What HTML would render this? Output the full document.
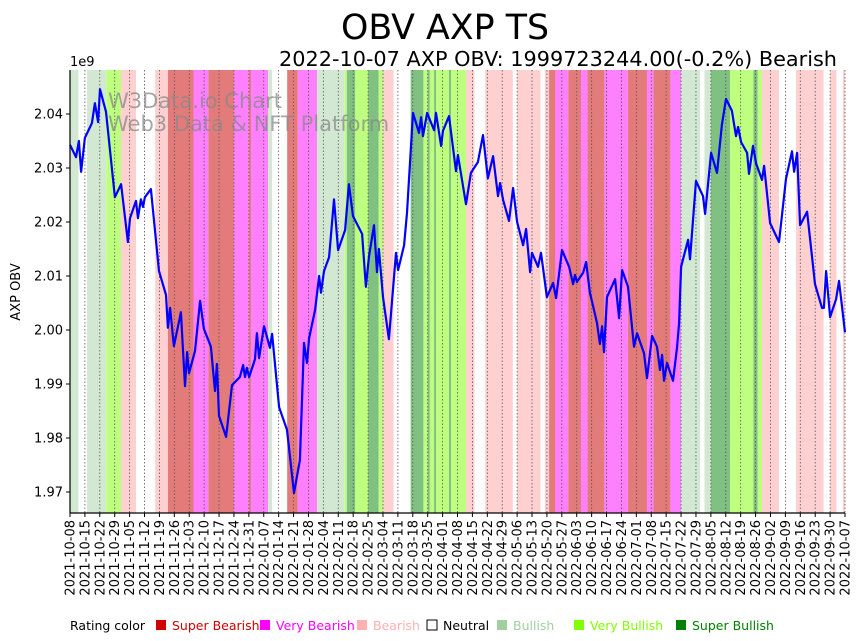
<!DOCTYPE html>
<html><head><meta charset="utf-8">
<style>
body{margin:0;background:#fff;width:862px;height:641px;overflow:hidden;font-family:"Liberation Sans","DejaVu Sans",sans-serif;}
svg{display:block}
</style></head>
<body>
<svg id="chart" width="862" height="641" xmlns="http://www.w3.org/2000/svg">
<text x="445" y="39" font-size="34.8" text-anchor="middle" font-family="DejaVu Sans, Liberation Sans, sans-serif">OBV AXP TS</text>
<text x="837" y="66" font-size="20.8" text-anchor="end" font-family="DejaVu Sans, Liberation Sans, sans-serif">2022-10-07 AXP OBV: 1999723244.00(-0.2%) Bearish</text>
<text x="70" y="66" font-size="13" font-family="DejaVu Sans, Liberation Sans, sans-serif">1e9</text>
<text transform="translate(20,292) rotate(-90)" font-size="13" text-anchor="middle" font-family="DejaVu Sans, Liberation Sans, sans-serif">AXP OBV</text>
<g id="bands"></g>
<g id="grid"></g>
<g id="wm">
<text x="108" y="108" font-size="21" fill="#888" fill-opacity="0.75" font-family="DejaVu Sans, Liberation Sans, sans-serif">W3Data.io Chart</text>
<text x="108" y="131" font-size="21" fill="#888" fill-opacity="0.75" font-family="DejaVu Sans, Liberation Sans, sans-serif">Web3 Data &amp; NFT Platform</text>
</g>
<path id="line" fill="none" stroke="#0000ff" stroke-width="2.2" stroke-linejoin="round"/>
<g id="axes"></g>
<g id="legend" font-size="12.5" font-family="DejaVu Sans, Liberation Sans, sans-serif"></g>
</svg>
<script>
const days=[0,2.8,4.2,5.2,7.0,10.3,11.7,13.2,14.1,16.9,21.1,24.0,27.2,28.2,31.0,31.9,33.3,34.3,35.2,38.0,41.8,45.1,46.0,47.0,48.8,52.1,54.0,55.0,55.9,58.7,61.1,62.9,66.2,68.1,69.0,70.0,73.3,76.1,79.8,81.3,82.2,83.1,84.1,86.9,87.8,88.8,91.1,93.9,94.9,98.2,101.9,105.2,108.0,109.9,111.3,112.3,115.1,117.0,117.9,119.3,121.7,124.0,125.9,129.2,131.0,132.9,137.2,139.0,140.4,142.8,144.2,145.1,147.0,149.8,153.1,154.1,156.9,158.3,161.1,163.9,164.9,165.8,167.7,171.0,171.9,174.3,175.2,178.0,181.3,182.2,186.0,188.3,191.6,194.0,196.3,198.7,201.0,202.0,203.4,206.2,208.1,210.0,212.8,214.2,216.1,217.0,219.8,221.2,224.0,226.9,228.3,231.1,234.4,236.3,237.2,238.1,241.0,242.4,244.2,245.2,247.5,248.9,249.9,250.8,252.2,256.0,257.9,259.3,262.1,264.9,266.3,269.6,271.0,273.4,275.7,277.1,278.1,279.0,280.4,283.2,285.1,286.1,287.0,290.3,291.2,294.0,297.3,298.3,301.1,303.9,306.2,308.1,310.9,312.8,313.8,315.2,318.0,318.9,320.8,322.2,325.0,326.0,328.8,333.0,336.3,339.1,340.1,341.5,342.9,346.2,349.9,353.2,354.1,355.1,357.0,359.8,361.2,364];
const obv=[2.0343,2.0320,2.0350,2.0293,2.0356,2.0383,2.0420,2.0385,2.0446,2.0404,2.0246,2.0270,2.0163,2.0207,2.0239,2.0207,2.0242,2.0228,2.0246,2.0261,2.0109,2.0065,2.0004,2.0041,1.9970,2.0033,1.9896,1.9959,1.9920,1.9961,2.0054,2.0002,1.9969,1.9887,1.9937,1.9841,1.9802,1.9898,1.9913,1.9935,1.9913,1.9930,1.9913,1.9946,1.9994,1.9948,2.0007,1.9967,1.9993,1.9857,1.9815,1.9698,1.9759,1.9976,1.9939,1.9985,2.0037,2.0100,2.0069,2.0109,2.0135,2.0242,2.0148,2.0185,2.0270,2.0211,2.0178,2.0080,2.0135,2.0194,2.0107,2.0150,2.0061,1.9983,2.0143,2.0111,2.0157,2.0217,2.0402,2.0365,2.0394,2.0359,2.0402,2.0370,2.0402,2.0341,2.0369,2.0396,2.0294,2.0324,2.0233,2.0291,2.0311,2.0361,2.0281,2.0322,2.0248,2.0272,2.0241,2.0202,2.0263,2.0200,2.0157,2.0187,2.0107,2.0143,2.0117,2.0143,2.0061,2.0087,2.0059,2.0148,2.0117,2.0085,2.0102,2.0089,2.0106,2.0126,2.0069,2.0052,2.0013,1.9974,2.0007,1.9959,2.0061,2.0094,2.0022,2.0111,2.0080,1.9969,1.9994,1.9957,1.9911,1.9989,1.9969,1.9926,1.9954,1.9906,1.9939,1.9906,1.9967,2.0013,2.0117,2.0167,2.0131,2.0276,2.0248,2.0215,2.0328,2.0291,2.0380,2.0428,2.0406,2.0359,2.0376,2.0348,2.0328,2.0289,2.0341,2.0309,2.0278,2.0304,2.0198,2.0163,2.0280,2.0331,2.0293,2.0328,2.0194,2.0219,2.0085,2.0041,2.0041,2.0109,2.0024,2.0057,2.0091,1.9996];
const bandStart=[0,4,8,17,24,31,40,46,58,65,77,84,85,93,95,102,107,116,129,130,134,140,145,147,152,160,166,168,169,171,172,178,179,186,190,195,208,210,221,223,225,228,234,240,243,251,262,271,274,282,287,296,298,301,310,321,323,325,333,341,354,357,360,363];
const bandRating=[4,3,4,5,2,3,2,0,1,0,1,0,1,4,3,0,1,4,5,6,5,6,5,2,3,6,5,6,5,6,5,6,5,2,3,2,3,2,3,2,0,1,0,1,0,1,0,1,0,1,4,3,4,6,5,6,5,2,3,2,3,2,3,2];
const yTicks=[1.97,1.98,1.99,2.00,2.01,2.02,2.03,2.04];
const ratingColors=['#e47b7b','#ff80ff','#ffd0d0','#ffffff','#d3e8d3','#bfff7f','#80c080'];
const legendNames=['Super Bearish','Very Bearish','Bearish','Neutral','Bullish','Very Bullish','Super Bullish'];
const legendText=['#d00000','#ff00ff','#ffb0b0','#000000','#a0d0a0','#80ff00','#008000'];
const legendSq=['#d00000','#ff00ff','#ffb0b0','#ffffff','#a0d0a0','#80ff00','#008000'];

const NS='http://www.w3.org/2000/svg';
const L=70,R=845,T=70,B=513;
const xS=d=>L+d*(R-L)/364;
const yS=v=>114+(2.04-v)*5400;
function mk(tag,attrs,parent){const e=document.createElementNS(NS,tag);for(const k in attrs)e.setAttribute(k,attrs[k]);parent.appendChild(e);return e;}

const bands=document.getElementById('bands');
for(let i=0;i<bandStart.length;i++){
  const end=i+1<bandStart.length?bandStart[i+1]:364;
  const r=mk('rect',{x:xS(bandStart[i]),y:T,width:xS(end)-xS(bandStart[i]),height:B-T,fill:ratingColors[bandRating[i]]},bands);
  
  
}
const grid=document.getElementById('grid');
const axes=document.getElementById('axes');
const start=new Date(Date.UTC(2021,9,8));
for(let w=0;w<=52;w++){
  const d=w*7;const x=xS(d);
  const g=mk('line',{x1:x,x2:x,y1:T,y2:B,stroke:'#555','stroke-width':0.8,'stroke-dasharray':'1.5,2'},grid);
  
  
  mk('line',{x1:x,x2:x,y1:B,y2:B+4,stroke:'#000','stroke-width':1},axes);
  const dt=new Date(start.getTime()+d*86400000);
  const s=dt.toISOString().slice(0,10);
  const t=mk('text',{transform:`translate(${x+4.5},${B+7}) rotate(-90)`,'text-anchor':'end','font-size':13,'font-family':'DejaVu Sans, Liberation Sans, sans-serif'},axes);
  t.textContent=s;
  
  
}
yTicks.forEach(v=>{
  const y=yS(v);
  mk('line',{x1:L-4,x2:L,y1:y,y2:y,stroke:'#000','stroke-width':1},axes);
  const t=mk('text',{x:L-7,y:y+4.5,'text-anchor':'end','font-size':13,'font-family':'DejaVu Sans, Liberation Sans, sans-serif'},axes);
  t.textContent=v.toFixed(2);
  
  
});
mk('line',{x1:L,x2:L,y1:T,y2:B,stroke:'#000','stroke-width':1.2},axes);
mk('line',{x1:L,x2:R,y1:B,y2:B,stroke:'#000','stroke-width':1.2},axes);

document.getElementById('line').setAttribute('d',days.map((d,i)=>(i?'L':'M')+xS(d).toFixed(1)+','+yS(obv[i]).toFixed(1)).join(''));

const lg=document.getElementById('legend');
const t0=mk('text',{x:70,y:630},lg);t0.textContent='Rating color';
const lx=[156,260,357,427,497,574,676];
legendNames.forEach((n,i)=>{
  const sq=mk('rect',{x:lx[i],y:620,width:10,height:10,fill:legendSq[i],stroke:i===3?'#000':'none','stroke-width':1},lg);
  
  
  const t=mk('text',{x:lx[i]+16,y:630,fill:legendText[i]},lg);
  t.textContent=n;
  
  
});
</script>
</body></html>
